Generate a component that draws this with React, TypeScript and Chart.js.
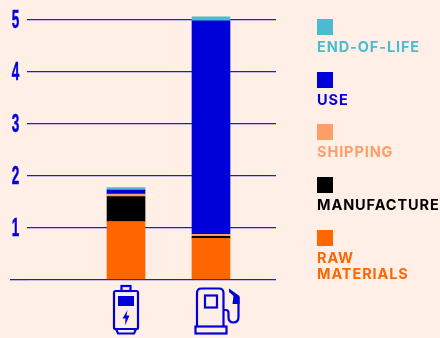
import React, { useEffect, useRef } from "react";
import { Chart, registerables } from "chart.js";

Chart.register(...registerables);

const categories = ["Electric vehicle", "Gasoline vehicle"];
const categoryPositions = [1, 2];
const rawMaterials = [1.115, 0.79];
const manufacture = [0.48, 0.04];
const shipping = [0.045, 0.04];
const use = [0.077, 4.1];
const endOfLife = [0.05, 0.077];
const tickLabels = [1, 2, 3, 4, 5];

const BLUE = "#0000d8";
const GRID = "#1a1ae0";
const BG = "#ffefe7";

const series = [
  { label: "RAW MATERIALS", lines: ["RAW", "MATERIALS"], data: rawMaterials, color: "#ff6600", top: 230 },
  { label: "MANUFACTURE", lines: ["MANUFACTURE"], data: manufacture, color: "#000000", top: 177 },
  { label: "SHIPPING", lines: ["SHIPPING"], data: shipping, color: "#ff9e66", top: 124 },
  { label: "USE", lines: ["USE"], data: use, color: "#0000d8", top: 72 },
  { label: "END-OF-LIFE", lines: ["END-OF-LIFE"], data: endOfLife, color: "#4bbccf", top: 19 },
];

function drawBattery(ctx: CanvasRenderingContext2D, cx: number) {
  ctx.strokeRect(cx - 4.5, 286, 9, 5);
  ctx.beginPath();
  ctx.roundRect(cx - 12, 291, 24, 38, 1.5);
  ctx.stroke();
  ctx.beginPath();
  ctx.moveTo(cx - 10, 329);
  ctx.lineTo(cx - 8, 333.5);
  ctx.lineTo(cx + 8, 333.5);
  ctx.lineTo(cx + 10, 329);
  ctx.stroke();
  ctx.fillRect(cx - 8, 296, 16, 10);
  ctx.beginPath();
  ctx.moveTo(cx + 1.5, 310);
  ctx.lineTo(cx - 3.5, 318.5);
  ctx.lineTo(cx - 0.5, 318.5);
  ctx.lineTo(cx - 1, 325.5);
  ctx.lineTo(cx + 3.5, 315.5);
  ctx.lineTo(cx + 0.5, 315.5);
  ctx.closePath();
  ctx.fill();
}

function drawPump(ctx: CanvasRenderingContext2D, cx: number) {
  const x = cx - 16;
  ctx.beginPath();
  ctx.moveTo(x + 2, 326);
  ctx.lineTo(x + 2, 293);
  ctx.quadraticCurveTo(x + 2, 288.5, x + 6.5, 288.5);
  ctx.lineTo(x + 24, 288.5);
  ctx.quadraticCurveTo(x + 28.5, 288.5, x + 28.5, 293);
  ctx.lineTo(x + 28.5, 326);
  ctx.stroke();
  ctx.strokeRect(x + 0.5, 326.5, 31, 7);
  ctx.strokeRect(x + 10, 295.5, 12, 12);
  ctx.beginPath();
  ctx.moveTo(x + 28.5, 310);
  ctx.lineTo(x + 31, 310);
  ctx.quadraticCurveTo(x + 33.5, 310, x + 33.5, 313);
  ctx.lineTo(x + 33.5, 317);
  ctx.quadraticCurveTo(x + 33.5, 322.5, x + 38.5, 322.5);
  ctx.quadraticCurveTo(x + 43.5, 322.5, x + 43.5, 317);
  ctx.lineTo(x + 43.5, 297);
  ctx.stroke();
  ctx.beginPath();
  ctx.moveTo(x + 34, 288.5);
  ctx.lineTo(x + 44.5, 296);
  ctx.lineTo(x + 44.5, 304);
  ctx.lineTo(x + 37.5, 304);
  ctx.lineTo(x + 38.5, 296);
  ctx.lineTo(x + 34, 292);
  ctx.closePath();
  ctx.fill();
}

const decorations = {
  id: "decorations",
  afterDraw(chart: any) {
    const ctx: CanvasRenderingContext2D = chart.ctx;
    const yScale = chart.scales.y;
    const xScale = chart.scales.x;
    ctx.save();
    ctx.fillStyle = BLUE;
    ctx.strokeStyle = BLUE;
    ctx.lineWidth = 2.2;
    drawBattery(ctx, xScale.getPixelForValue(categoryPositions[0]));
    drawPump(ctx, xScale.getPixelForValue(categoryPositions[1]));
    ctx.font = 'bold 26px "Liberation Sans"';
    ctx.textAlign = "center";
    ctx.textBaseline = "middle";
    ctx.lineWidth = 0.5;
    for (const t of tickLabels) {
      ctx.save();
      ctx.translate(15.5, yScale.getPixelForValue(t) + 1.5);
      ctx.scale(0.52, 1);
      ctx.fillText(String(t), 0, 0);
      ctx.strokeText(String(t), 0, 0);
      ctx.restore();
    }
    ctx.restore();
  },
};

export default function App() {
  const ref = useRef<HTMLCanvasElement>(null);

  useEffect(() => {
    const chart = new Chart(ref.current as HTMLCanvasElement, {
      type: "bar",
      data: {
        labels: categories,
        datasets: series.map((s) => ({
          label: s.label,
          data: s.data.map((v, i) => ({ x: categoryPositions[i], y: v })),
          backgroundColor: s.color,
          borderWidth: 0,
          barThickness: 38,
        })),
      } as any,
      options: {
        responsive: false,
        animation: false,
        layout: { padding: { left: 0, right: 164, top: 9.5, bottom: 58.5 } },
        plugins: { legend: { display: false }, tooltip: { enabled: false } },
        scales: {
          x: {
            type: "linear",
            stacked: true,
            display: false,
            min: -0.165,
            max: 2.765,
            offset: false,
          },
          y: {
            stacked: true,
            min: 0,
            max: 5.19,
            afterFit: (s: any) => {
              s.width = 27;
            },
            border: { display: false },
            grid: {
              color: GRID,
              lineWidth: 1.3,
              drawTicks: true,
              tickLength: 17,
              tickColor: (c: any) => (c.tick && c.tick.value === 0 ? GRID : "transparent"),
            },
            ticks: { display: false, stepSize: 1, includeBounds: false },
          },
        },
      } as any,
      plugins: [decorations],
    });
    return () => chart.destroy();
  }, []);

  return (
    <div style={{ position: "fixed", left: 0, top: 0, width: 440, height: 338, background: BG, overflow: "hidden" }}>
      <canvas ref={ref} width={440} height={338} style={{ position: "absolute", left: 0, top: 0, display: "block" }} />
      {series.map((s) => (
        <div key={s.label} style={{ position: "absolute", left: 317, top: s.top, color: s.color }}>
          <div style={{ width: 16, height: 16, background: s.color }} />
          <div
            style={{
              marginTop: 4,
              font: '700 14.5px/16px "Inter"',
              letterSpacing: 0.9,
              whiteSpace: "nowrap",
            }}
          >
            {s.lines.map((l) => (
              <div key={l}>{l}</div>
            ))}
          </div>
        </div>
      ))}
    </div>
  );
}
